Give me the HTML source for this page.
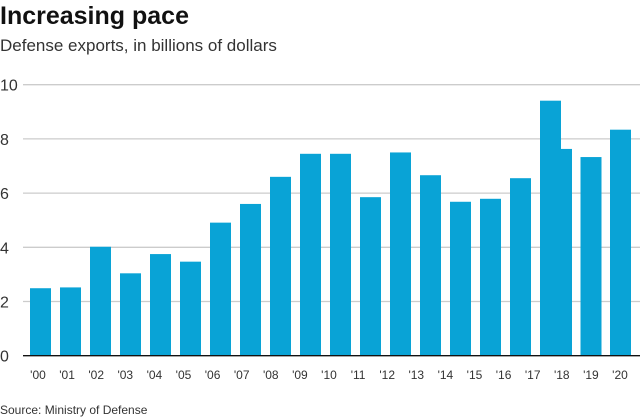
<!DOCTYPE html>
<html><head><meta charset="utf-8"><style>
body{margin:0;background:#fff;font-family:"Liberation Sans",sans-serif;}
#wrap{position:relative;width:640px;height:420px;overflow:hidden}
.t{position:absolute;white-space:nowrap;color:#222}
</style></head><body>
<div id="wrap">
<div class="t" style="left:0;top:2px;font-size:25px;font-weight:bold;color:#111">Increasing pace</div>
<div class="t" style="left:0;top:36px;font-size:17px;color:#333">Defense exports, in billions of dollars</div>
<svg id="svg" width="640" height="420" style="position:absolute;left:0;top:0"></svg>
<div class="t" style="left:0;top:403px;font-size:12px;color:#333">Source: Ministry of Defense</div>
</div>
<script>
const categories=["'00","'01","'02","'03","'04","'05","'06","'07","'08","'09","'10","'11","'12","'13","'14","'15","'16","'17","'18","'19","'20"];
const values=[2.49,2.52,4.02,3.04,3.75,3.47,4.91,5.6,6.6,7.45,7.45,5.85,7.5,6.66,5.68,5.79,6.55,9.41,7.63,7.33,8.34];
const yTicks=[0,2,4,6,8,10];
const NS="http://www.w3.org/2000/svg";
const svg=document.getElementById('svg');
function y(v){return 355.7-v*27.1;}
function xBar(i){if(i<=17)return 30+30*i;return 551+(i-18)*29.5;}
const bw=21;
function xLabel(i){return 38+29.1*i;}
function mk(tag,attrs){const e=document.createElementNS(NS,tag);for(const k in attrs)e.setAttribute(k,attrs[k]);svg.appendChild(e);return e;}
yTicks.forEach(t=>{
  if(t>0){const g=mk('line',{x1:23,x2:640,y1:y(t),y2:y(t),stroke:'#cccccc','stroke-width':1.3});
  
  }
  const tx=mk('text',{x:0,y:y(t)+6,'font-size':16,fill:'#333','font-family':'Liberation Sans, sans-serif'});
  tx.textContent=t;
  
  
});
const order=values.map((v,i)=>i);order.splice(17,2,18,17);
order.forEach(i=>{
  const r=mk('rect',{x:xBar(i),y:y(values[i]),width:bw,height:y(0)-y(values[i]),fill:'#09a3d6'});
  
  
});
categories.forEach((c,i)=>{
  const tx=mk('text',{x:xLabel(i),y:379,'font-size':12,fill:'#333','text-anchor':'middle','font-family':'Liberation Sans, sans-serif'});
  tx.textContent=c;
  
  
});
const base=mk('line',{x1:23,x2:640,y1:y(0),y2:y(0),stroke:'#111','stroke-width':1.3});


</script>
</body></html>
